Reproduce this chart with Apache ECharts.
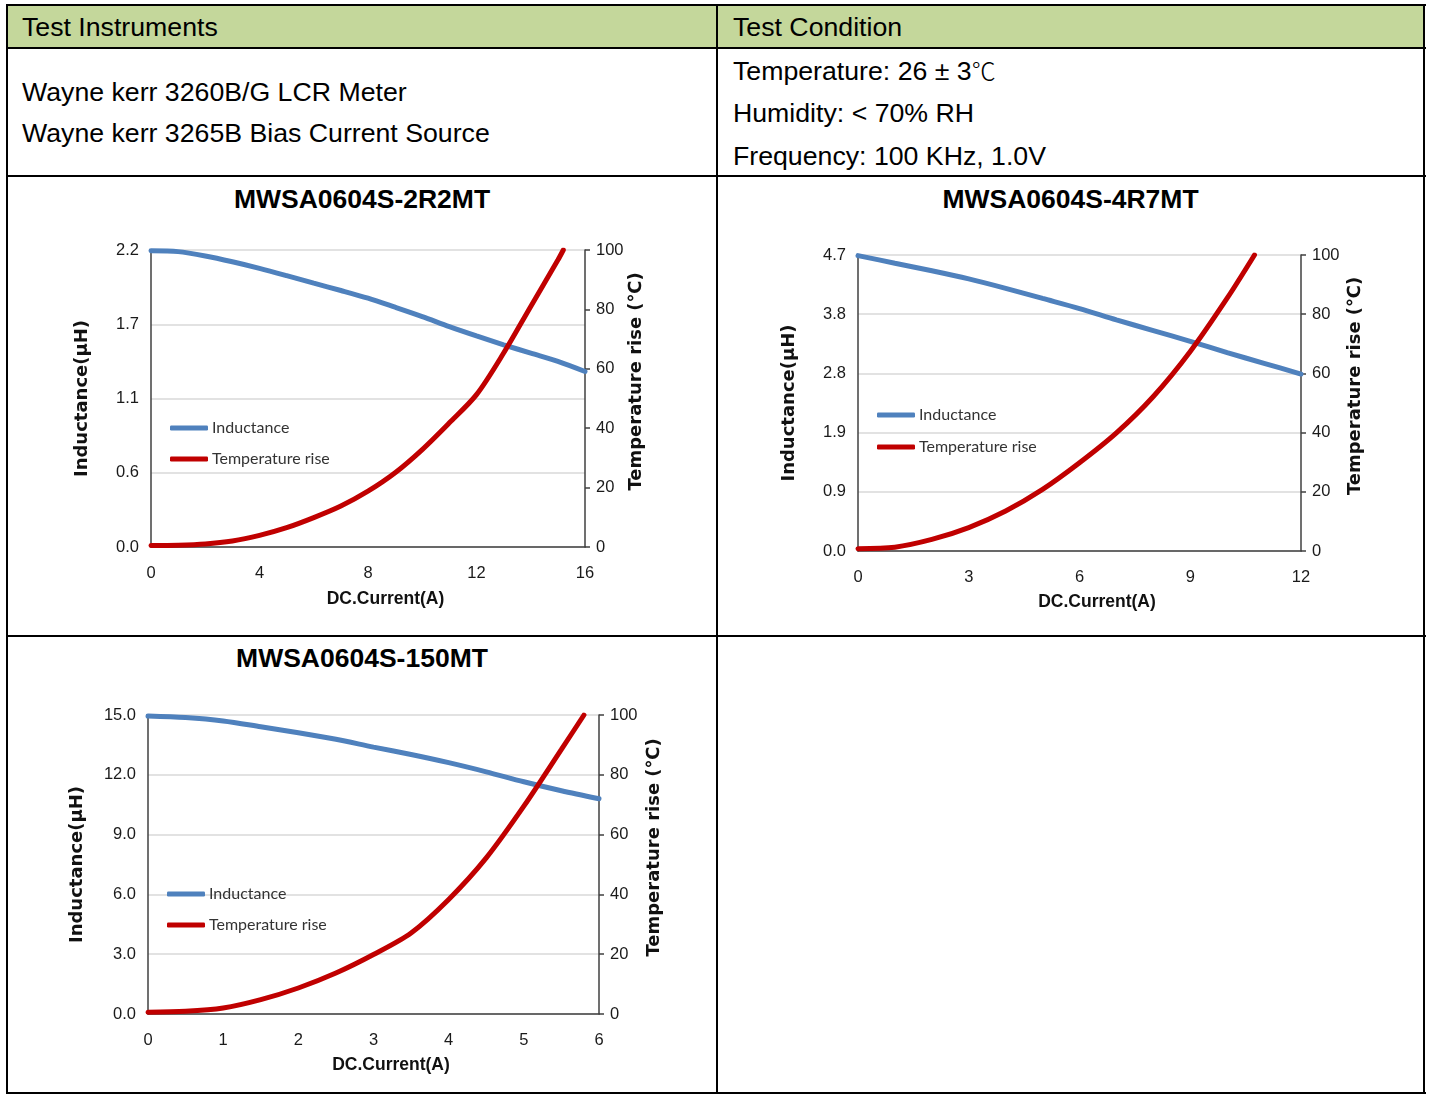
<!DOCTYPE html>
<html>
<head>
<meta charset="utf-8">
<script src="https://cdn.jsdelivr.net/npm/echarts@6/dist/echarts.min.js"></script>
<style>
  html, body { margin: 0; padding: 0; background: #fff; }
  #page { position: relative; width: 1431px; height: 1095px; overflow: hidden; font-family: "Liberation Sans", Arial, sans-serif; color: #000; }
  .ln { position: absolute; background: #000; }
  .txt { position: absolute; font-size: 26.7px; white-space: nowrap; line-height: 30px; }
  .ttl { position: absolute; font-size: 26.5px; font-weight: bold; white-space: nowrap; line-height: 30px; text-align: center; }
  .cjk { font-family: "Noto Sans CJK SC", sans-serif; font-weight: 300; font-size: 24px; }
  #chart { position: absolute; left: 0; top: 0; width: 1431px; height: 1095px; }
</style>
</head>
<body>
<div id="page">
  <div style="position:absolute;left:8px;top:6px;width:1415px;height:41px;background:#c4d79b;"></div>
  <div class="ln" style="left:6px;top:4px;width:1420px;height:2px;"></div>
  <div class="ln" style="left:6px;top:1092px;width:1420px;height:2px;"></div>
  <div class="ln" style="left:6px;top:4px;width:2px;height:1090px;"></div>
  <div class="ln" style="left:1423px;top:4px;width:2px;height:1090px;"></div>
  <div class="ln" style="left:716px;top:4px;width:2px;height:1090px;"></div>
  <div class="ln" style="left:6px;top:47px;width:1420px;height:2px;"></div>
  <div class="ln" style="left:6px;top:175px;width:1420px;height:2px;"></div>
  <div class="ln" style="left:6px;top:635px;width:1420px;height:2px;"></div>

  <div class="txt" style="left:22px;top:12px;">Test Instruments</div>
  <div class="txt" style="left:733px;top:12px;">Test Condition</div>
  <div class="txt" style="left:22px;top:77px;">Wayne kerr 3260B/G LCR Meter</div>
  <div class="txt" style="left:22px;top:118px;">Wayne kerr 3265B Bias Current Source</div>
  <div class="txt" style="left:733px;top:55px;">Temperature: 26 ± 3<span class="cjk">℃</span></div>
  <div class="txt" style="left:733px;top:98px;">Humidity: &lt; 70% RH</div>
  <div class="txt" style="left:733px;top:141px;">Frequency: 100 KHz, 1.0V</div>

  <div class="ttl" style="left:8px;width:708px;top:184px;">MWSA0604S-2R2MT</div>
  <div class="ttl" style="left:718px;width:705px;top:184px;">MWSA0604S-4R7MT</div>
  <div class="ttl" style="left:8px;width:708px;top:643px;">MWSA0604S-150MT</div>

  <div id="chart"></div>
</div>
<script>
// ---------- data ----------
// Chart 1: MWSA0604S-2R2MT
const current1 = [0,1,2,3,4,5,6,7,8,9,10,11,12,13,14,15,16];
const inductance1 = [2.195,2.188,2.156,2.113,2.064,2.010,1.954,1.900,1.843,1.776,1.707,1.633,1.564,1.498,1.436,1.375,1.300];
const tempCurrent1 = [0,1,2,3,4,5,6,7,8,9,10,11,12,13,14,15,15.2];
const tempRise1 = [0.5,0.6,1.0,2.0,3.9,6.5,9.9,13.8,18.8,25.0,32.8,41.8,51.3,65.3,81.0,96.6,100];
const xTicks1 = [0,4,8,12,16];
const indTicks1 = ['0.0','0.6','1.1','1.7','2.2'];

// Chart 2: MWSA0604S-4R7MT
const current2 = [0,1,2,3,4,5,6,7,8,9,10,11,12];
const inductance2 = [4.69,4.57,4.45,4.32,4.17,4.01,3.85,3.67,3.50,3.33,3.15,2.98,2.81];
const tempCurrent2 = [0,1,2,3,4,5,6,7,8,9,10,10.74];
const tempRise2 = [0.8,1.3,3.9,7.9,13.5,20.8,29.8,39.9,52.2,67.4,85.4,100];
const xTicks2 = [0,3,6,9,12];
const indTicks2 = ['0.0','0.9','1.9','2.8','3.8','4.7'];

// Chart 3: MWSA0604S-150MT
const current3 = [0,0.5,1,1.5,2,2.5,3,3.5,4,4.5,5,5.5,6];
const inductance3 = [14.95,14.87,14.70,14.41,14.11,13.78,13.39,13.02,12.61,12.15,11.65,11.20,10.80];
const tempCurrent3 = [0,0.5,1,1.5,2,2.5,3,3.5,4,4.5,5,5.5,5.8];
const tempRise3 = [0.6,0.9,2.0,4.8,8.7,13.7,19.9,27.1,38.3,52.2,69.5,88.5,100];
const xTicks3 = [0,1,2,3,4,5,6];
const indTicks3 = ['0.0','3.0','6.0','9.0','12.0','15.0'];

const tempTicks = [0,20,40,60,80,100];

// ---------- styling ----------
const BLUE = '#4f81bd', RED = '#c00000';
const AXIS_DARK = '#404040', GRID_LIGHT = '#d9d9d9', LABEL = '#1a1a1a';
const SANS = '"Liberation Sans", Arial, sans-serif';
const tickFont = { fontFamily: SANS, fontSize: 16.5, color: LABEL };
const xNameFont = { fontFamily: SANS, fontSize: 17.5, fontWeight: 'bold', color: '#111', padding: [0, 0, 0, 35] };
const yNameFont = { fontFamily: '"DejaVu Sans", sans-serif', fontSize: 18, fontWeight: 'bold', color: '#111' };

const panels = [
  { grid: { left: 151, top: 250, width: 434, height: 297 }, xMax: 16, xInt: 4, xTicks: xTicks1,
    indTicks: indTicks1, indMax: 2.2, cur: current1, ind: inductance1, tCur: tempCurrent1, temp: tempRise1,
    legend: { left: 165, top: 415, gap: 15 }, leftGap: 60, rightGap: 42, xNameGap: 43 },
  { grid: { left: 858, top: 255, width: 443, height: 296 }, xMax: 12, xInt: 3, xTicks: xTicks2,
    indTicks: indTicks2, indMax: 4.7, cur: current2, ind: inductance2, tCur: tempCurrent2, temp: tempRise2,
    legend: { left: 872, top: 402, gap: 16 }, leftGap: 60, rightGap: 45, xNameGap: 42 },
  { grid: { left: 148, top: 715, width: 451, height: 299 }, xMax: 6, xInt: 1, xTicks: xTicks3,
    indTicks: indTicks3, indMax: 15, cur: current3, ind: inductance3, tCur: tempCurrent3, temp: tempRise3,
    legend: { left: 162, top: 881, gap: 15 }, leftGap: 62, rightGap: 46, xNameGap: 42 }
];

const option = { animation: false, grid: [], xAxis: [], yAxis: [], series: [], legend: [] };

panels.forEach((p, i) => {
  option.grid.push(Object.assign({ containLabel: false }, p.grid));
  option.xAxis.push({
    type: 'value', gridIndex: i, min: 0, max: p.xMax, interval: p.xInt,
    name: 'DC.Current(A)', nameLocation: 'middle', nameGap: p.xNameGap, nameTextStyle: xNameFont,
    axisLine: { show: true, lineStyle: { color: AXIS_DARK, width: 1.5 } },
    axisTick: { show: false }, splitLine: { show: false },
    axisLabel: Object.assign({ margin: 18 }, tickFont)
  });
  const step = p.indMax / (p.indTicks.length - 1);
  const labels = p.indTicks;
  option.yAxis.push({
    type: 'value', gridIndex: i, position: 'left', min: 0, max: p.indMax, interval: step,
    name: 'Inductance(μH)', nameLocation: 'middle', nameGap: p.leftGap, nameTextStyle: yNameFont,
    axisLine: { show: true, lineStyle: { color: AXIS_DARK, width: 1.5 } },
    axisTick: { show: false },
    splitLine: { show: true, lineStyle: { color: GRID_LIGHT, width: 1.5 } },
    axisLabel: Object.assign({ margin: 12, formatter: v => labels[Math.round(v / step)] }, tickFont)
  });
  option.yAxis.push({
    type: 'value', gridIndex: i, position: 'right', min: 0, max: 100, interval: 20,
    name: 'Temperature rise (℃)', nameLocation: 'middle', nameGap: p.rightGap,
    nameTextStyle: Object.assign({ padding: [0, 0, 0, 34] }, yNameFont),
    axisLine: { show: true, lineStyle: { color: AXIS_DARK, width: 1.5 } },
    axisTick: { show: true, length: 5, inside: false, lineStyle: { color: AXIS_DARK, width: 1.5 } },
    splitLine: { show: false },
    axisLabel: Object.assign({ margin: 11 }, tickFont)
  });
  option.series.push({
    name: 'Inductance', type: 'line', xAxisIndex: i, yAxisIndex: 2 * i,
    data: p.cur.map((x, k) => [x, p.ind[k]]),
    smooth: 0.3, showSymbol: false, symbol: 'none',
    lineStyle: { color: BLUE, width: 5, cap: 'round' }, itemStyle: { color: BLUE }, z: 2
  });
  option.series.push({
    name: 'Temperature rise', type: 'line', xAxisIndex: i, yAxisIndex: 2 * i + 1,
    data: p.tCur.map((x, k) => [x, p.temp[k]]),
    smooth: 0.3, showSymbol: false, symbol: 'none',
    lineStyle: { color: RED, width: 5, cap: 'round' }, itemStyle: { color: RED }, z: 3
  });
  option.legend.push({
    left: p.legend.left, top: p.legend.top, orient: 'vertical', itemGap: p.legend.gap,
    icon: 'roundRect', itemWidth: 38, itemHeight: 5, selectedMode: false,
    data: ['Inductance', 'Temperature rise'],
    textStyle: { fontFamily: 'Lato, "Liberation Sans", sans-serif', fontSize: 16, lineHeight: 16, color: '#333', padding: [0, 0, 0, -1] }
  });
});

const chart = echarts.init(document.getElementById('chart'), null, { renderer: 'canvas' });
chart.setOption(option);
</script>
</body>
</html>
